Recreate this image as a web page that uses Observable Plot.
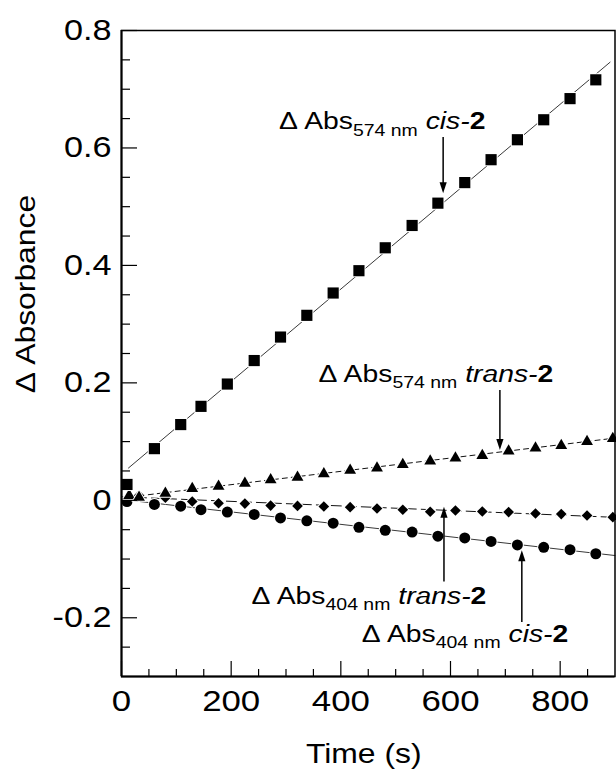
<!DOCTYPE html>
<html><head><meta charset="utf-8">
<script src="https://cdn.jsdelivr.net/npm/d3@7"></script>
<script src="https://cdn.jsdelivr.net/npm/@observablehq/plot@0.6"></script>
<style>
html,body{margin:0;padding:0;background:#fff;}
#chart{width:616px;height:773px;}
</style></head><body><div id="chart"></div>
<script>
// ---- data ----
const timesCis = [10, 60, 108, 145, 193, 242, 290, 338, 386, 433, 481, 530, 577, 626, 674, 722, 770, 818, 865];
const absCis574 = [0.027, 0.088, 0.129, 0.160, 0.198, 0.238, 0.278, 0.315, 0.353, 0.391, 0.430, 0.468, 0.506, 0.541, 0.580, 0.614, 0.648, 0.684, 0.716];
const absCis404 = [-0.002, -0.007, -0.010, -0.016, -0.020, -0.024, -0.030, -0.035, -0.039, -0.046, -0.051, -0.054, -0.061, -0.064, -0.070, -0.076, -0.080, -0.084, -0.091];
const timesTrans574 = [14, 32, 80, 129, 177, 225, 272, 321, 369, 417, 466, 513, 563, 609, 658, 706, 755, 802, 849, 896];
const absTrans574 = [0.008, 0.005, 0.012, 0.020, 0.024, 0.029, 0.035, 0.039, 0.045, 0.051, 0.055, 0.061, 0.067, 0.072, 0.076, 0.084, 0.089, 0.093, 0.100, 0.105];
const timesTrans404 = [32, 80, 129, 177, 225, 272, 321, 369, 417, 466, 513, 563, 609, 658, 706, 755, 802, 849, 896];
const absTrans404 = [0.008, 0.0045, -0.002, -0.005, -0.0055, -0.009, -0.0095, -0.0105, -0.0117, -0.014, -0.016, -0.0195, -0.0173, -0.019, -0.020, -0.0225, -0.0235, -0.0258, -0.0287];

// linear fits (end points)
const fitCis574X = [12.7, 891], fitCis574Y = [0.055, 0.746];
const fitTrans574X = [0, 900], fitTrans574Y = [0.004, 0.106];
const fitTrans404X = [0, 900], fitTrans404Y = [0.006, -0.029];
const fitCis404X = [0, 900], fitCis404Y = [0.0015, -0.094];

// axes
const yMajor = [-0.2, 0, 0.2, 0.4, 0.6, 0.8];
const yLabels = ["-0.2", "0", "0.2", "0.4", "0.6", "0.8"];
const yMinor = [-0.25, -0.15, -0.1, -0.05, 0.05, 0.1, 0.15, 0.25, 0.3, 0.35, 0.45, 0.5, 0.55, 0.65, 0.7, 0.75];
const xMajor = [0, 200, 400, 600, 800];
const xLabels = ["0", "200", "400", "600", "800"];
const xMinor = [50, 100, 150, 250, 300, 350, 450, 500, 550, 650, 700, 750, 850];
const xTitle = "Time (s)";
const yTitle = "\u0394 Absorbance";

// annotations: label parts and data-space anchors
const annotations = [
  {nm: "574", form: "cis",   tx: 288, ty: 0.631,  ax: 587.5, ayFrom: 0.618,  ayTo: 0.522},
  {nm: "574", form: "trans", tx: 360, ty: 0.201,  ax: 691,   ayFrom: 0.187,  ayTo: 0.085},
  {nm: "404", form: "trans", tx: 238, ty: -0.177, ax: 589,   ayFrom: -0.139, ayTo: -0.012},
  {nm: "404", form: "cis",   tx: 439, ty: -0.242, ax: 731,   ayFrom: -0.208, ayTo: -0.086}
];

// ---- build ----
const FONT = "'Liberation Sans', Arial, Helvetica, sans-serif";
const SX = 1.18; // horizontal stretch of the original lettering
const rows = (xs, ys) => xs.map((x, i) => ({x, y: ys[i]}));
const halo = {stroke: "white", strokeWidth: 2, paintOrder: "stroke", fill: "black"};

const svg = Plot.plot({
  width: 616, height: 773,
  marginLeft: 121, marginRight: 1.5, marginTop: 30, marginBottom: 97,
  x: {domain: [0, 900]},
  y: {domain: [-0.3, 0.8]},
  style: {fontFamily: FONT, color: "black", background: "white", overflow: "visible"},
  marks: [
    Plot.line(rows(fitCis574X, fitCis574Y), {x: "x", y: "y", stroke: "#222", strokeWidth: 0.9}),
    Plot.line(rows(fitTrans574X, fitTrans574Y), {x: "x", y: "y", stroke: "#111", strokeWidth: 1, strokeDasharray: "5,4"}),
    Plot.line(rows(fitTrans404X, fitTrans404Y), {x: "x", y: "y", stroke: "#111", strokeWidth: 1, strokeDasharray: "10,5"}),
    Plot.line(rows(fitCis404X, fitCis404Y), {x: "x", y: "y", stroke: "#222", strokeWidth: 0.9}),
    Plot.dot(rows(timesCis, absCis404), {x: "x", y: "y", symbol: "circle", r: 5.5, ...halo}),
    Plot.dot(rows(timesTrans404, absTrans404), {x: "x", y: "y", symbol: "diamond2", r: 4.8, ...halo}),
    Plot.dot(rows(timesTrans574, absTrans574), {x: "x", y: "y", symbol: "triangle", r: 4.4, ...halo}),
    Plot.dot(rows(timesCis, absCis574), {x: "x", y: "y", symbol: "square", r: 6.3, ...halo}),
    Plot.frame({stroke: "black", strokeWidth: 1.5}),
    Plot.ruleX([0], {stroke: "black", strokeWidth: 2}),
    Plot.ruleY([-0.3], {stroke: "black", strokeWidth: 2}),
    Plot.axisY({ticks: yMajor, tickSize: -16, tickFormat: () => "", label: null, strokeWidth: 1.2}),
    Plot.axisY({ticks: yMinor, tickSize: -9, tickFormat: () => "", label: null, strokeWidth: 1.2}),
    Plot.axisY({ticks: yMajor, tickSize: 0, tickPadding: 10, tickFormat: (d) => yLabels[yMajor.indexOf(d)], label: null, fontSize: 29}),
    Plot.axisX({ticks: xMajor, tickSize: -15, tickFormat: () => "", label: null, strokeWidth: 1.2}),
    Plot.axisX({ticks: xMinor, tickSize: -7, tickFormat: () => "", label: null, strokeWidth: 1.2}),
    Plot.axisX({ticks: xMajor, tickSize: 0, tickPadding: 14, tickFormat: (d) => xLabels[xMajor.indexOf(d)], label: null, fontSize: 29.5})
  ]
});

// stretch Plot's tick lettering horizontally
svg.querySelectorAll("text").forEach((t) => {
  const a = parseFloat(t.getAttribute("x")) || 0;
  const tr = t.getAttribute("transform") || "";
  t.setAttribute("transform", `${tr} translate(${a},0) scale(${SX},1) translate(${-a},0)`);
});

const xs = svg.scale("x"), ys = svg.scale("y");
const [fx0, fx1] = xs.range, [fy0, fy1] = ys.range; // fy0 bottom, fy1 top
const g = d3.select(svg).append("g").attr("font-family", FONT).attr("fill", "black").attr("text-anchor", "start");

// axis titles
g.append("text").attr("text-anchor", "middle").attr("font-size", 27)
  .attr("transform", `translate(${(fx0 + fx1) / 2 - 4},${fy0 + 87}) scale(${SX},1)`).text(xTitle);
g.append("text").attr("text-anchor", "middle").attr("font-size", 27)
  .attr("transform", `translate(${fx0 - 86},${(fy0 + fy1) / 2 - 59}) rotate(-90) scale(${SX},1)`).text(yTitle);

// annotations drawn through Plot's scales
for (const a of annotations) {
  const X = xs.apply(a.ax), Y1 = ys.apply(a.ayFrom), Y2 = ys.apply(a.ayTo);
  const dir = Math.sign(Y2 - Y1), hl = 11, hw = 3.6;
  g.append("line").attr("x1", X).attr("x2", X).attr("y1", Y1).attr("y2", Y2 - dir * hl * 0.7)
    .attr("stroke", "black").attr("stroke-width", 1.5);
  g.append("path").attr("d", `M${X},${Y2}L${X - hw},${Y2 - dir * hl}L${X + hw},${Y2 - dir * hl}Z`).attr("fill", "black");
  const t = g.append("text").attr("text-anchor", "start")
    .attr("transform", `translate(${xs.apply(a.tx)},${ys.apply(a.ty)}) scale(${SX},1)`)
    .attr("font-size", 24);
  t.append("tspan").text("\u0394 Abs");
  t.append("tspan").attr("font-size", 16.5).attr("dy", 6.5).text(a.nm + " nm");
  t.append("tspan").attr("dy", -6.5).text(" ");
  t.append("tspan").attr("font-style", "italic").text(a.form + "-");
  t.append("tspan").attr("font-weight", "bold").text("2");
}

document.getElementById("chart").appendChild(svg);
</script>
</body></html>
